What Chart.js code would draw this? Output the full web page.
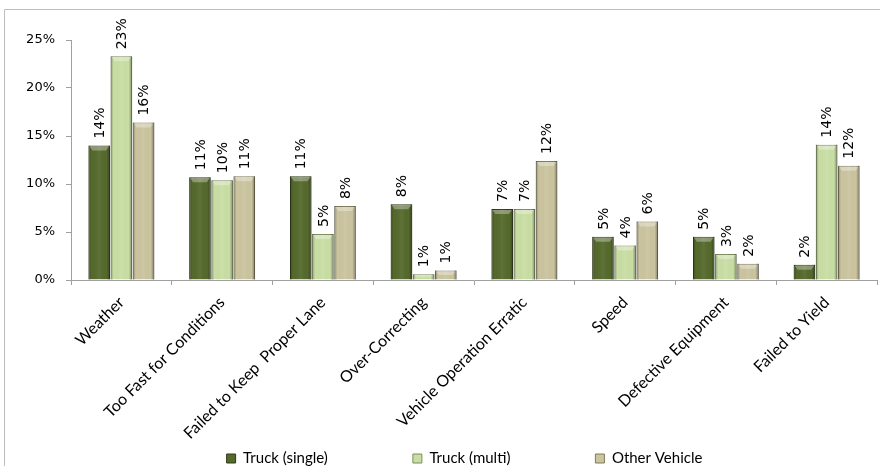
<!DOCTYPE html>
<html>
<head>
<meta charset="utf-8">
<script src="https://cdn.jsdelivr.net/npm/chart.js@4.4.0/dist/chart.umd.min.js"></script>
<style>
  html, body { margin: 0; padding: 0; background: #fff; }
  #wrap { width: 880px; height: 466px; position: relative; }
</style>
</head>
<body>
<div id="wrap"><canvas id="chart" width="880" height="466"></canvas></div>
<script>
// Data
const categories = ["Weather", "Too Fast for Conditions", "Failed to Keep  Proper Lane", "Over-Correcting",
  "Vehicle Operation Erratic", "Speed", "Defective Equipment", "Failed to Yield"];
const truckSingle = [14.0, 10.7, 10.8, 7.9, 7.4, 4.5, 4.5, 1.6];
const truckMulti = [23.3, 10.4, 4.8, 0.6, 7.4, 3.6, 2.7, 14.1];
const otherVehicle = [16.4, 10.8, 7.7, 1.0, 12.4, 6.1, 1.7, 11.9];
const yTicks = [0, 5, 10, 15, 20, 25];

const AXIS_GRAY = "#a0a0a0";
const LEGEND_PAD = 85;

// Frame around the chart (top and left edges visible)
const frame = {
  id: "frame",
  beforeDraw(chart) {
    const ctx = chart.ctx;
    ctx.save();
    ctx.strokeStyle = "#bdbdbd";
    ctx.lineWidth = 1;
    ctx.beginPath();
    ctx.moveTo(4.5, 466);
    ctx.lineTo(4.5, 9.5);
    ctx.lineTo(880, 9.5);
    ctx.stroke();
    ctx.restore();
  }
};

// Move the legend row to the bottom edge (its wide padding would otherwise eat the axis space)
const legendSpot = {
  id: "legendSpot",
  afterLayout(chart) {
    const lg = chart.legend;
    if (!lg) return;
    const dy = (451 - LEGEND_PAD) - lg.top;
    lg.top += dy;
    lg.bottom += dy;
    lg.left += 26;
    lg.right += 26;
  }
};

// Bevel look on each bar
const bevel = {
  id: "bevel",
  afterDatasetsDraw(chart) {
    const ctx = chart.ctx;
    ctx.save();
    chart.data.datasets.forEach((ds, i) => {
      chart.getDatasetMeta(i).data.forEach((bar) => {
        const w = bar.width;
        const left = bar.x - w / 2;
        const right = bar.x + w / 2;
        const top = bar.y;
        const h = bar.base - bar.y;
        if (h <= 0) return;
        const g = ctx.createLinearGradient(left, 0, right, 0);
        g.addColorStop(0, "rgba(0,0,0,0.30)");
        g.addColorStop(0.14, "rgba(0,0,0,0)");
        g.addColorStop(0.5, "rgba(255,255,255,0.06)");
        g.addColorStop(0.84, "rgba(0,0,0,0)");
        g.addColorStop(1, "rgba(0,0,0,0.38)");
        ctx.fillStyle = g;
        ctx.fillRect(left, top, w, h);
        const cap = Math.min(5, h / 2);
        ctx.fillStyle = "rgba(255,255,255,0.32)";
        ctx.beginPath();
        ctx.moveTo(left + 1, top + 1);
        ctx.lineTo(right - 1, top + 1);
        ctx.lineTo(right - 4, top + cap);
        ctx.lineTo(left + 4, top + cap);
        ctx.closePath();
        ctx.fill();
      });
    });
    ctx.restore();
  }
};

// Rotated value labels above bars
const barLabels = {
  id: "barLabels",
  afterDatasetsDraw(chart) {
    const ctx = chart.ctx;
    ctx.save();
    ctx.font = '14px "DejaVu Sans"';
    ctx.fillStyle = "#000";
    ctx.textAlign = "left";
    ctx.textBaseline = "middle";
    chart.data.datasets.forEach((ds, i) => {
      chart.getDatasetMeta(i).data.forEach((bar, j) => {
        ctx.save();
        ctx.translate(bar.x + 1, bar.y - 7);
        ctx.rotate(-Math.PI / 2);
        ctx.fillText(Math.round(ds.data[j]) + "%", 0, 0);
        ctx.restore();
      });
    });
    ctx.restore();
  }
};

const ctx = document.getElementById("chart").getContext("2d");
new Chart(ctx, {
  type: "bar",
  data: {
    labels: categories,
    datasets: [
      { label: "Truck (single)", data: truckSingle, backgroundColor: "#55692c", borderColor: "#2f3c16", borderWidth: 1 },
      { label: "Truck (multi)", data: truckMulti, backgroundColor: "#c9dea4", borderColor: "#7d8c5c", borderWidth: 1 },
      { label: "Other Vehicle", data: otherVehicle, backgroundColor: "#cbc49f", borderColor: "#7f7a5c", borderWidth: 1 }
    ]
  },
  options: {
    responsive: false,
    animation: false,
    devicePixelRatio: 1,
    categoryPercentage: 0.66,
    barPercentage: 0.97,
    layout: { padding: { top: 40, left: 0, right: 3, bottom: -(LEGEND_PAD + 25 - 16) } },
    scales: {
      x: {
        grid: { display: true, drawOnChartArea: false, tickLength: 5, color: AXIS_GRAY, offset: true },
        border: { color: AXIS_GRAY },
        ticks: {
          autoSkip: false,
          maxRotation: 45,
          minRotation: 45,
          color: "#000",
          padding: 8,
          font: { family: "Lato", size: 16 }
        },
        afterFit: (scale) => { scale.height = 170; }
      },
      y: {
        min: 0,
        max: 25,
        afterBuildTicks: (scale) => { scale.ticks = yTicks.map((v) => ({ value: v })); },
        grid: { display: true, drawOnChartArea: false, tickLength: 5, color: AXIS_GRAY },
        border: { color: AXIS_GRAY },
        ticks: {
          color: "#000",
          padding: 11,
          font: { family: "DejaVu Sans", size: 13 },
          callback: (v) => v + "%"
        },
        afterFit: (scale) => { scale.width = 71; }
      }
    },
    plugins: {
      legend: {
        position: "bottom",
        labels: {
          boxWidth: 9,
          boxHeight: 9,
          padding: LEGEND_PAD,
          color: "#000",
          font: { family: "Lato", size: 15 }
        }
      },
      tooltip: { enabled: false }
    }
  },
  plugins: [frame, legendSpot, bevel, barLabels]
});
</script>
</body>
</html>
